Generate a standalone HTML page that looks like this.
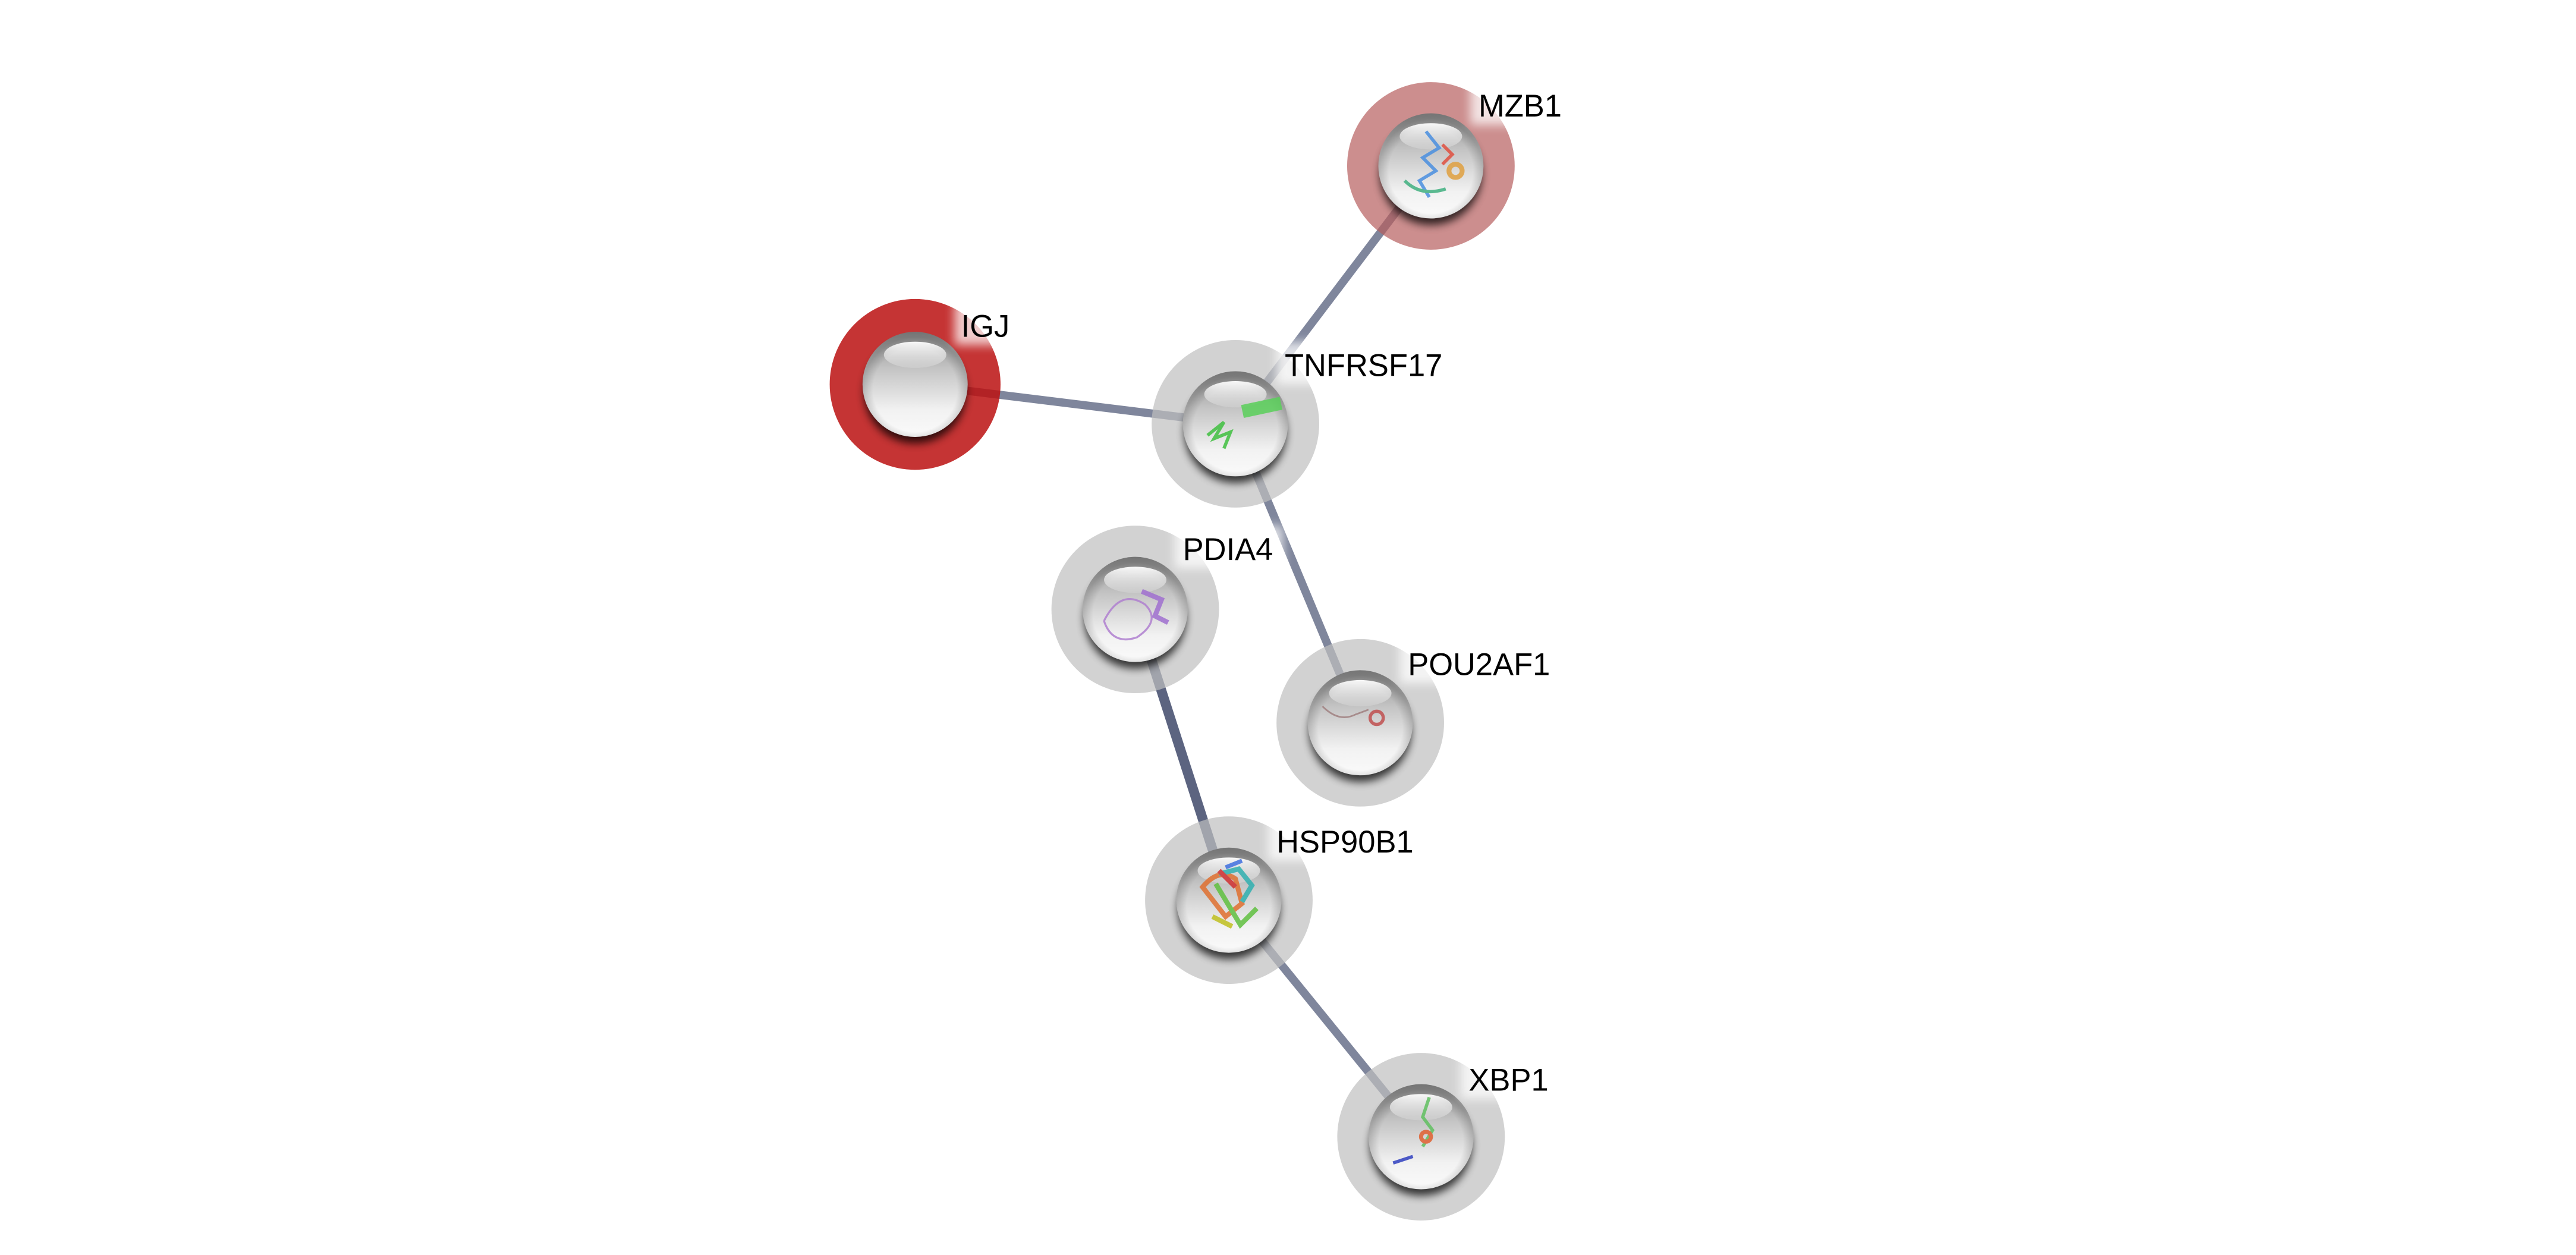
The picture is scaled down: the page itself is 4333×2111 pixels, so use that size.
<!DOCTYPE html>
<html><head><meta charset="utf-8"><style>
html,body{margin:0;padding:0;background:#fff;}
svg{display:block;}
text{font-family:"Liberation Sans",sans-serif;font-size:19px;fill:#000;}
</style></head><body>
<svg width="4333" height="2111" viewBox="0 0 1568 764" xmlns="http://www.w3.org/2000/svg">
<defs>
<linearGradient id="sph" x1="0" y1="0" x2="0" y2="1">
<stop offset="0" stop-color="#8e8e8e"/>
<stop offset="0.35" stop-color="#c4c4c4"/>
<stop offset="0.75" stop-color="#f2f2f2"/>
<stop offset="1" stop-color="#fafafa"/>
</linearGradient>
<radialGradient id="edge" cx="50%" cy="55%" r="50%">
<stop offset="0.8" stop-color="#000" stop-opacity="0"/>
<stop offset="1" stop-color="#000" stop-opacity="0.18"/>
</radialGradient>
<linearGradient id="hl" x1="0" y1="0" x2="0" y2="1">
<stop offset="0" stop-color="#fff" stop-opacity="0.95"/>
<stop offset="1" stop-color="#fff" stop-opacity="0.15"/>
</linearGradient>
<filter id="blur" x="-50%" y="-50%" width="200%" height="200%"><feGaussianBlur stdDeviation="2.5"/></filter>
<filter id="blur2" x="-50%" y="-50%" width="200%" height="200%"><feGaussianBlur stdDeviation="3"/></filter>
<g id="ball">
<circle cx="0" cy="5" r="31" fill="#000" opacity="0.75" filter="url(#blur)"/>
<circle r="32" fill="url(#sph)"/>
<circle r="32" fill="url(#edge)"/>
<ellipse cx="0" cy="-18" rx="19" ry="8" fill="url(#hl)"/>
</g>
</defs>
<g stroke="#7f869c" stroke-width="5">
<line x1="871" y1="101" x2="752" y2="258"/>
<line x1="557" y1="234" x2="752" y2="258"/>
<line x1="752" y1="258" x2="828" y2="440"/>
<line x1="748" y1="548" x2="865" y2="692"/>
<line x1="691" y1="371" x2="748" y2="548" stroke="#5c6480" stroke-width="6"/>
</g>
<circle cx="871" cy="101" r="51" fill="#b65e5e" opacity="0.7"/>
<circle cx="557" cy="234" r="52" fill="#bb1010" opacity="0.85"/>
<g fill="#bfbfbf" opacity="0.7">
<circle cx="752" cy="258" r="51"/>
<circle cx="691" cy="371" r="51"/>
<circle cx="828" cy="440" r="51"/>
<circle cx="748" cy="548" r="51"/>
<circle cx="865" cy="692" r="51"/>
</g>
<use href="#ball" x="871" y="101"/>
<use href="#ball" x="557" y="234"/>
<use href="#ball" x="752" y="258"/>
<use href="#ball" x="691" y="371"/>
<use href="#ball" x="828" y="440"/>
<use href="#ball" x="748" y="548"/>
<use href="#ball" x="865" y="692"/>
<!-- structures -->
<g fill="none" stroke-width="2" opacity="0.85">
<path d="M868,80 l8,10 -10,6 8,8 -10,6 6,10" stroke="#4a8fe0"/>
<path d="M878,88 l6,6 -6,6" stroke="#e05040"/>
<circle cx="886" cy="104" r="4" stroke="#e0a040" stroke-width="3"/>
<path d="M855,110 q10,10 25,5" stroke="#40b080"/>
<path d="M735,265 l10,-8 -6,10 10,-4 -4,10" stroke="#40c040"/>
<rect x="756" y="244" width="24" height="8" fill="#5ad05a" stroke="none" transform="rotate(-12 768 248)"/>
<path d="M672,378 q10,-20 25,-10 q10,10 -5,20 q-15,5 -20,-10" stroke="#b080d0" stroke-width="1.2"/>
<path d="M695,360 l12,5 -4,10 8,4" stroke="#a070d0" stroke-width="3"/>
<path d="M805,430 q10,10 20,5 l8,-3" stroke="#a08080" stroke-width="1"/>
<circle cx="838" cy="437" r="4" stroke="#c05050"/>
<path d="M732,540 q10,-12 20,-5 l4,15 -10,8 z" stroke="#e07030" stroke-width="3"/>
<path d="M742,532 l12,-3 8,10 -6,10" stroke="#30b0b0" stroke-width="3"/>
<path d="M740,538 l15,25 10,-10" stroke="#60c040" stroke-width="3"/>
<path d="M742,530 l10,10" stroke="#d03030" stroke-width="3"/>
<path d="M738,558 l12,6" stroke="#c0c020" stroke-width="3"/>
<path d="M746,528 l10,-4" stroke="#4070e0" stroke-width="2.5"/>
<path d="M870,668 l-4,12 6,8 -6,10" stroke="#60c060"/>
<circle cx="868" cy="692" r="3" stroke="#e06030" stroke-width="2.5"/>
<path d="M848,708 l12,-4" stroke="#3040c0"/>
</g>
<g fill="#fff" opacity="0.75" filter="url(#blur2)">
<rect x="895" y="50" width="60" height="26"/>
<rect x="581" y="184" width="38" height="26"/>
<rect x="777" y="208" width="106" height="26"/>
<rect x="715" y="320" width="66" height="26"/>
<rect x="852" y="390" width="98" height="26"/>
<rect x="772" y="498" width="94" height="26"/>
<rect x="889" y="643" width="56" height="26"/>
</g>
<text x="900" y="71">MZB1</text>
<text x="585" y="205">IGJ</text>
<text x="782" y="229">TNFRSF17</text>
<text x="720" y="341">PDIA4</text>
<text x="857" y="411">POU2AF1</text>
<text x="777" y="519">HSP90B1</text>
<text x="894" y="664">XBP1</text>
</svg>
</body></html>
